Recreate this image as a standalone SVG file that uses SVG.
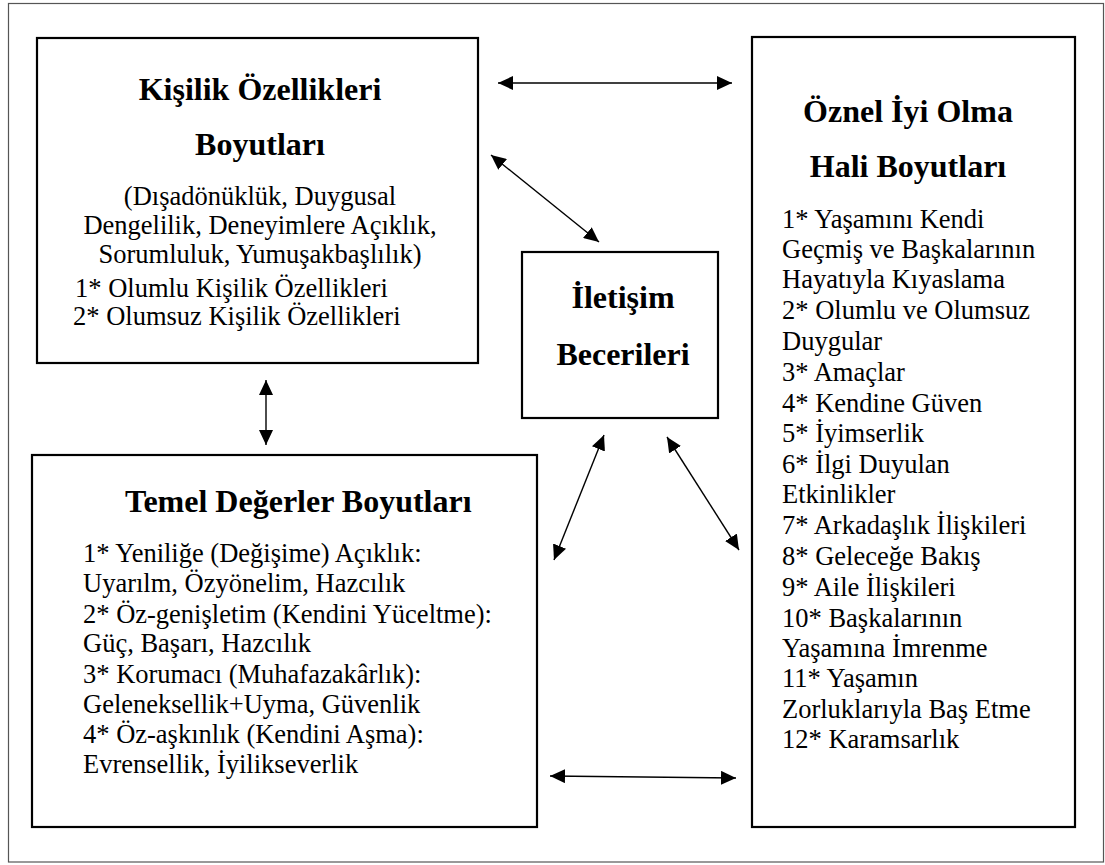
<svg xmlns="http://www.w3.org/2000/svg" width="1105" height="865" viewBox="0 0 1105 865" font-family="Liberation Serif, Times New Roman, serif">
<defs>
<marker id="ah" viewBox="0 0 15 14" refX="15" refY="7" markerWidth="15" markerHeight="14" markerUnits="userSpaceOnUse" orient="auto-start-reverse">
<path d="M0,0 L15,7 L0,14 z" fill="#000"/>
</marker>
</defs>
<rect width="1105" height="865" fill="#fff"/>
<rect x="8.5" y="3.5" width="1095" height="858.5" fill="none" stroke="#555" stroke-width="1.2"/>

<g id="kisilik" fill="#000">
<rect x="37" y="38" width="441" height="325" fill="#fff" stroke="#000" stroke-width="2.2"/>
<text style="font-family:'Liberation Serif',serif;font-size:32px;font-weight:bold" text-anchor="middle" x="260" y="100">Kişilik Özellikleri</text>
<text style="font-family:'Liberation Serif',serif;font-size:32px;font-weight:bold" text-anchor="middle" x="260" y="155">Boyutları</text>
<text style="font-family:'Liberation Serif',serif;font-size:26.5px" text-anchor="middle" x="260" y="205">(Dışadönüklük, Duygusal</text>
<text style="font-family:'Liberation Serif',serif;font-size:26.5px" text-anchor="middle" x="260" y="234">Dengelilik, Deneyimlere Açıklık,</text>
<text style="font-family:'Liberation Serif',serif;font-size:26.5px" text-anchor="middle" x="260" y="263">Sorumluluk, Yumuşakbaşlılık)</text>
<text style="font-family:'Liberation Serif',serif;font-size:26.5px" x="75" y="297">1* Olumlu Kişilik Özellikleri</text>
<text style="font-family:'Liberation Serif',serif;font-size:26.5px" x="73" y="325">2* Olumsuz Kişilik Özellikleri</text>
</g>

<g id="oznel" fill="#000">
<rect x="752" y="37" width="323" height="790" fill="#fff" stroke="#000" stroke-width="2.2"/>
<text style="font-family:'Liberation Serif',serif;font-size:32px;font-weight:bold" text-anchor="middle" x="908" y="122">Öznel İyi Olma</text>
<text style="font-family:'Liberation Serif',serif;font-size:32px;font-weight:bold" text-anchor="middle" x="908" y="177">Hali Boyutları</text>
<text style="font-family:'Liberation Serif',serif;font-size:26.5px" x="782" y="228">1* Yaşamını Kendi</text>
<text style="font-family:'Liberation Serif',serif;font-size:26.5px" x="782" y="258">Geçmiş ve Başkalarının</text>
<text style="font-family:'Liberation Serif',serif;font-size:26.5px" x="782" y="288">Hayatıyla Kıyaslama</text>
<text style="font-family:'Liberation Serif',serif;font-size:26.5px" x="782" y="319">2* Olumlu ve Olumsuz</text>
<text style="font-family:'Liberation Serif',serif;font-size:26.5px" x="782" y="350">Duygular</text>
<text style="font-family:'Liberation Serif',serif;font-size:26.5px" x="782" y="381">3* Amaçlar</text>
<text style="font-family:'Liberation Serif',serif;font-size:26.5px" x="782" y="412">4* Kendine Güven</text>
<text style="font-family:'Liberation Serif',serif;font-size:26.5px" x="782" y="442">5* İyimserlik</text>
<text style="font-family:'Liberation Serif',serif;font-size:26.5px" x="782" y="473">6* İlgi Duyulan</text>
<text style="font-family:'Liberation Serif',serif;font-size:26.5px" x="782" y="503">Etkinlikler</text>
<text style="font-family:'Liberation Serif',serif;font-size:26.5px" x="782" y="534">7* Arkadaşlık İlişkileri</text>
<text style="font-family:'Liberation Serif',serif;font-size:26.5px" x="782" y="565">8* Geleceğe Bakış</text>
<text style="font-family:'Liberation Serif',serif;font-size:26.5px" x="782" y="596">9* Aile İlişkileri</text>
<text style="font-family:'Liberation Serif',serif;font-size:26.5px" x="782" y="627">10* Başkalarının</text>
<text style="font-family:'Liberation Serif',serif;font-size:26.5px" x="782" y="657">Yaşamına İmrenme</text>
<text style="font-family:'Liberation Serif',serif;font-size:26.5px" x="782" y="687">11* Yaşamın</text>
<text style="font-family:'Liberation Serif',serif;font-size:26.5px" x="782" y="718">Zorluklarıyla Baş Etme</text>
<text style="font-family:'Liberation Serif',serif;font-size:26.5px" x="782" y="748">12* Karamsarlık</text>
</g>

<g id="iletisim" fill="#000">
<rect x="522" y="252" width="196" height="166" fill="#fff" stroke="#000" stroke-width="2.2"/>
<text style="font-family:'Liberation Serif',serif;font-size:32px;font-weight:bold" text-anchor="middle" x="623" y="308">İletişim</text>
<text style="font-family:'Liberation Serif',serif;font-size:32px;font-weight:bold" text-anchor="middle" x="623" y="365">Becerileri</text>
</g>

<g id="temel" fill="#000">
<rect x="32" y="455" width="505" height="372" fill="#fff" stroke="#000" stroke-width="2.2"/>
<text style="font-family:'Liberation Serif',serif;font-size:32px;font-weight:bold" x="125" y="512">Temel Değerler Boyutları</text>
<text style="font-family:'Liberation Serif',serif;font-size:26.5px" x="83" y="562">1* Yeniliğe (Değişime) Açıklık:</text>
<text style="font-family:'Liberation Serif',serif;font-size:26.5px" x="83" y="592">Uyarılm, Özyönelim, Hazcılık</text>
<text style="font-family:'Liberation Serif',serif;font-size:26.5px" x="83" y="623">2* Öz-genişletim (Kendini Yüceltme):</text>
<text style="font-family:'Liberation Serif',serif;font-size:26.5px" x="83" y="652">Güç, Başarı, Hazcılık</text>
<text style="font-family:'Liberation Serif',serif;font-size:26.5px" x="83" y="683">3* Korumacı (Muhafazakârlık):</text>
<text style="font-family:'Liberation Serif',serif;font-size:26.5px" x="83" y="713">Geleneksellik+Uyma, Güvenlik</text>
<text style="font-family:'Liberation Serif',serif;font-size:26.5px" x="83" y="743">4* Öz-aşkınlık (Kendini Aşma):</text>
<text style="font-family:'Liberation Serif',serif;font-size:26.5px" x="83" y="773">Evrensellik, İyilikseverlik</text>
</g>

<g id="connectors" stroke="#000" stroke-width="1.4" fill="none" marker-start="url(#ah)" marker-end="url(#ah)">
<line x1="498" y1="83" x2="732" y2="83"/>
<line x1="491" y1="155" x2="599" y2="242"/>
<line x1="266" y1="380" x2="266" y2="445"/>
<line x1="604" y1="435" x2="554" y2="560"/>
<line x1="667" y1="437" x2="739" y2="550"/>
<line x1="550" y1="776" x2="736" y2="778"/>
</g>
</svg>
